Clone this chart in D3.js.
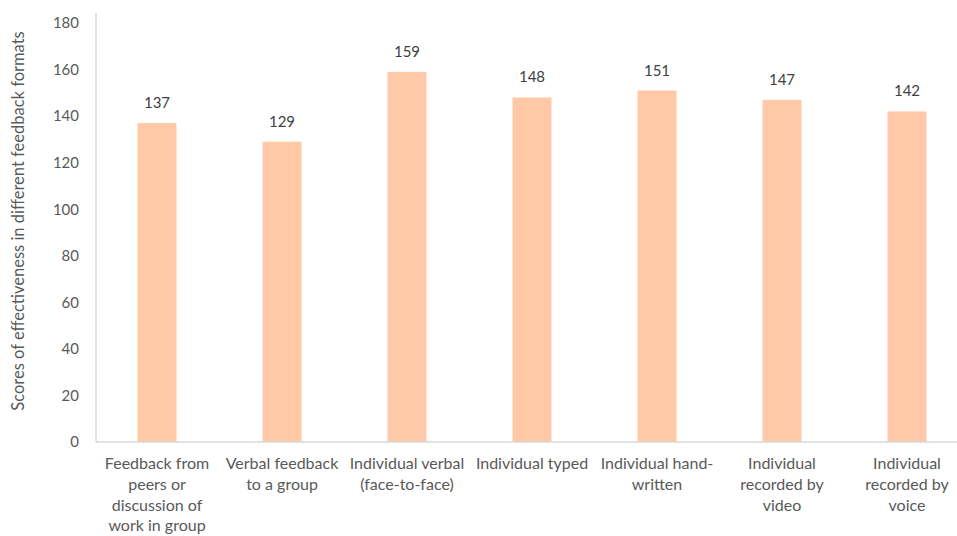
<!DOCTYPE html>
<html><head><meta charset="utf-8">
<script src="https://cdn.jsdelivr.net/npm/d3@7"></script>
<style>body{margin:0;background:#fff}svg{display:block}</style>
</head><body>
<svg id="c" width="957" height="536"></svg>
<script>
const categories = [
  ["Feedback from","peers or","discussion of","work in group"],
  ["Verbal feedback","to a group"],
  ["Individual verbal","(face-to-face)"],
  ["Individual typed"],
  ["Individual hand-","written"],
  ["Individual","recorded by","video"],
  ["Individual","recorded by","voice"]
];
const values = [137, 129, 159, 148, 151, 147, 142];
const yTicks = [0, 20, 40, 60, 80, 100, 120, 140, 160, 180];
const yTitle = "Scores of effectiveness in different feedback formats";

const font = "Lato, 'Open Sans', sans-serif";
const svg = d3.select("#c");
const x = d3.scaleBand().domain(d3.range(categories.length)).range([94.5, 969.5]).paddingInner(0.688).paddingOuter(0.344);
const y = d3.scaleLinear().domain([0, 180]).range([442, 23]);

// axis lines
svg.append("line").attr("x1", 96).attr("x2", 96).attr("y1", 13).attr("y2", y(0)).attr("stroke", "#d9d9d9").attr("stroke-width", 1.5);

// bars
svg.selectAll("rect.bar").data(values).join("rect").attr("class","bar")
  .attr("x", (d,i) => x(i)).attr("width", x.bandwidth())
  .attr("y", d => y(d)).attr("height", d => y(0) - y(d)).attr("fill", "#ffc9a7");

svg.append("line").attr("x1", 96).attr("x2", 957).attr("y1", y(0)).attr("y2", y(0)).attr("stroke", "#d9d9d9").attr("stroke-width", 1.5);

// y axis
const ya = svg.append("g").attr("transform", "translate(96,0)")
  .call(d3.axisLeft(y).tickValues(yTicks).tickSize(0).tickPadding(17));
ya.select(".domain").remove();
ya.selectAll("text").attr("font-family", font).attr("font-size", 15).attr("fill", "#595959");

// value labels
svg.selectAll("text.val").data(values).join("text").attr("class","val")
  .attr("x", (d,i) => x(i) + x.bandwidth()/2).attr("y", d => y(d) - 15)
  .attr("text-anchor","middle").attr("font-family", font).attr("font-size", 15).attr("fill","#404040")
  .text(d => d);

// category labels
const cl = svg.selectAll("text.cat").data(categories).join("text").attr("class","cat")
  .attr("x", (d,i) => x(i) + x.bandwidth()/2).attr("y", 469)
  .attr("text-anchor","middle").attr("font-family", font).attr("font-size", 16).attr("fill","#595959");
cl.selectAll("tspan").data(d => d).join("tspan")
  .attr("x", function(){ return this.parentNode.getAttribute("x"); })
  .attr("dy", (d,i) => i ? 20.8 : 0).text(d => d);

// y title
svg.append("text").attr("transform", "translate(24,221) rotate(-90)")
  .attr("text-anchor","middle").attr("font-family", font).attr("font-size", 16.5).attr("fill","#595959")
  .text(yTitle);
</script>
</body></html>
